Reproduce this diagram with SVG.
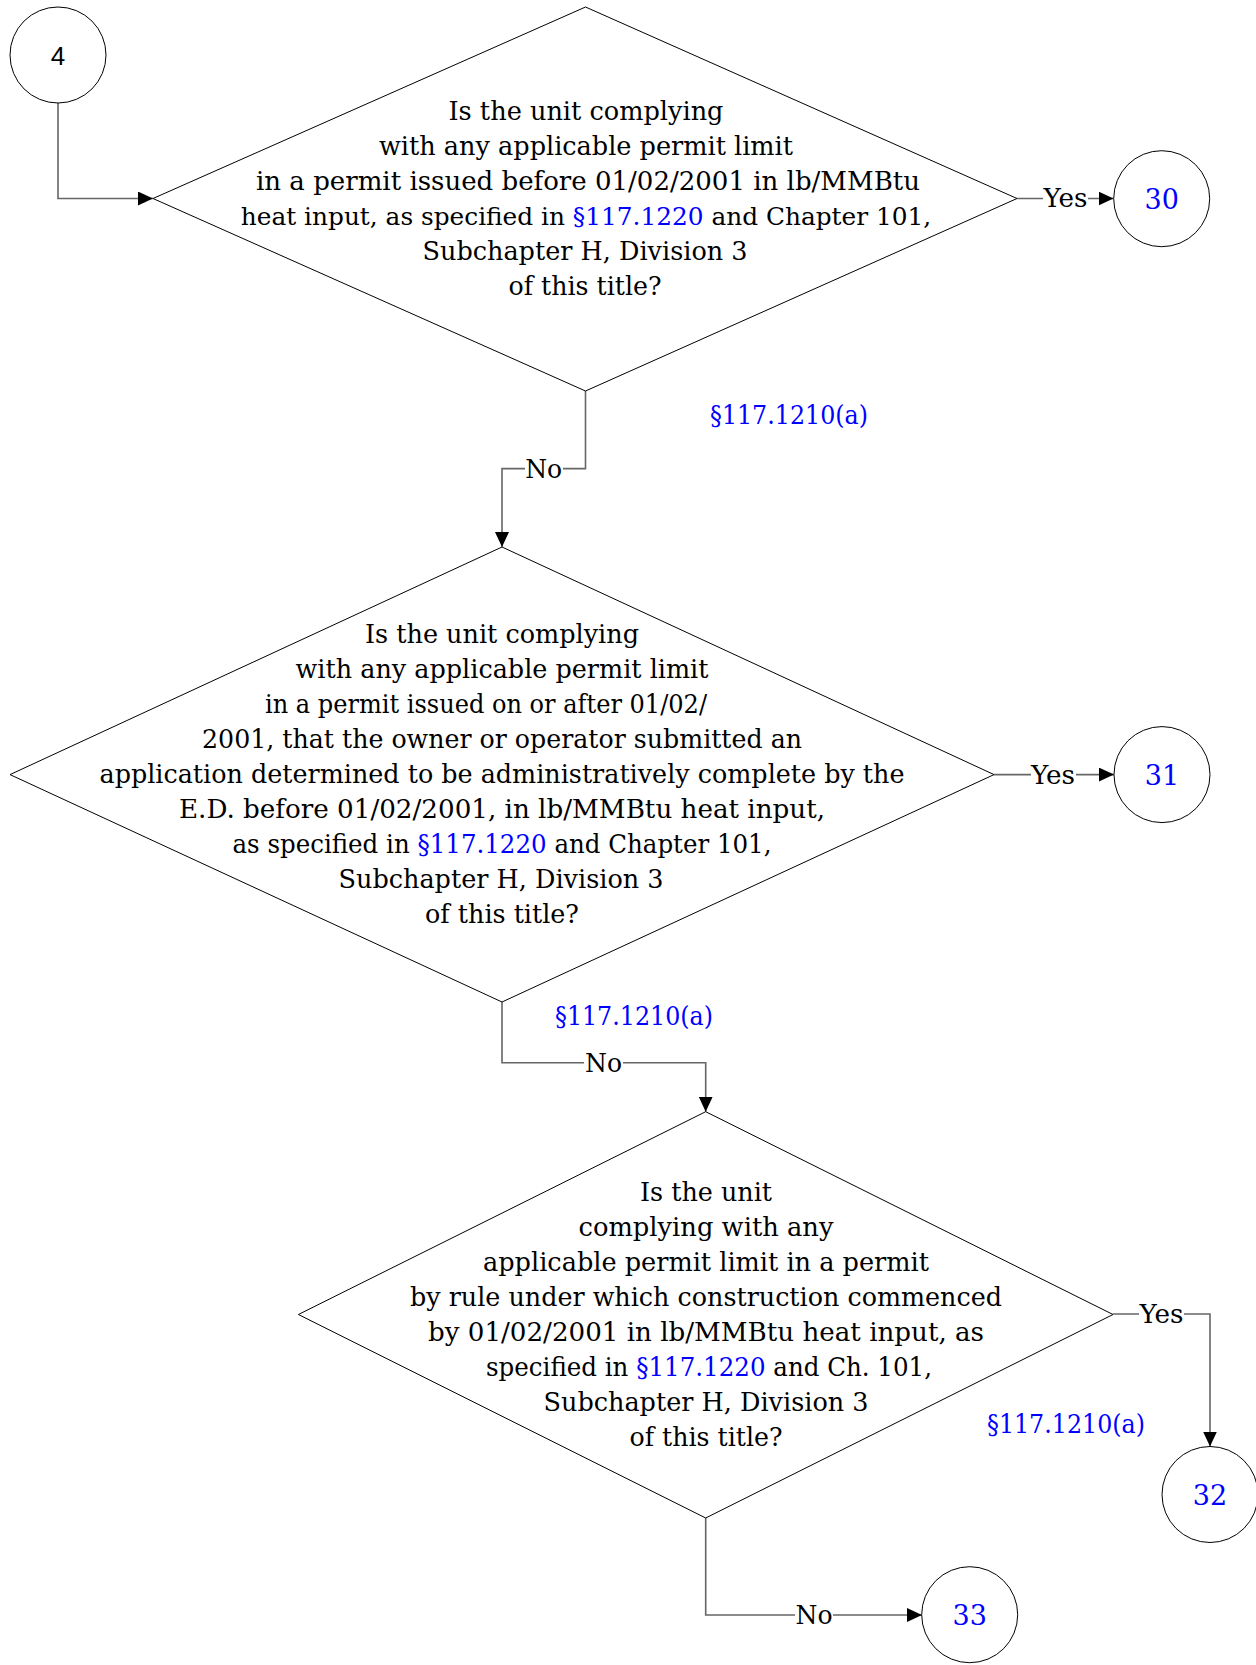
<svg xmlns="http://www.w3.org/2000/svg" width="1256" height="1665" viewBox="0 0 1256 1665">
<defs>
<marker id="arr" markerUnits="userSpaceOnUse" markerWidth="15" markerHeight="14" refX="15" refY="7" orient="auto">
<path d="M0,0 L15,7 L0,14 z" fill="#000"/>
</marker>
<style>
.shape{fill:#fff;stroke:#000;stroke-width:1}
.conn{fill:none;stroke:#666;stroke-width:1.6}
.t{font-family:"DejaVu Serif","Liberation Serif",serif;font-size:26px;fill:#000;text-anchor:middle}
.lnk{fill:#0000ff}
.ref{font-family:"DejaVu Serif","Liberation Serif",serif;font-size:26px;fill:#0000ff;text-anchor:middle}
.num{font-family:"DejaVu Serif","Liberation Serif",serif;font-size:27px;fill:#0000ff;text-anchor:middle}
.lbl{font-family:"DejaVu Serif","Liberation Serif",serif;font-size:26px;fill:#000;text-anchor:middle}
.bg{fill:#fff}
</style>
</defs>
<rect width="1256" height="1665" fill="#fff"/>

<g id="connectors">
<path class="conn" d="M58,103 V198.5 H153" marker-end="url(#arr)"/>
<path class="conn" d="M1017,198.5 H1113.5" marker-end="url(#arr)"/>
<path class="conn" d="M585.5,391 V468.6 H502 V547" marker-end="url(#arr)"/>
<path class="conn" d="M994,774.6 H1114" marker-end="url(#arr)"/>
<path class="conn" d="M502,1002 V1062.7 H705.7 V1111.7" marker-end="url(#arr)"/>
<path class="conn" d="M1113,1314 H1210 V1446.5" marker-end="url(#arr)"/>
<path class="conn" d="M705.7,1518 V1615 H922" marker-end="url(#arr)"/>
<g id="edge-labels">
<rect class="bg" x="1043" y="186" width="45" height="26"/>
<text class="lbl" x="1065.5" y="207" textLength="44" lengthAdjust="spacingAndGlyphs">Yes</text>
<rect class="bg" x="525" y="456" width="38" height="26"/>
<text class="lbl" x="543.7" y="478" textLength="37" lengthAdjust="spacingAndGlyphs">No</text>
<rect class="bg" x="1031" y="762" width="45" height="26"/>
<text class="lbl" x="1053" y="784" textLength="44" lengthAdjust="spacingAndGlyphs">Yes</text>
<rect class="bg" x="584" y="1050" width="39" height="26"/>
<text class="lbl" x="603.5" y="1072" textLength="37" lengthAdjust="spacingAndGlyphs">No</text>
<rect class="bg" x="1139" y="1301" width="45" height="26"/>
<text class="lbl" x="1161.5" y="1323" textLength="44" lengthAdjust="spacingAndGlyphs">Yes</text>
<rect class="bg" x="795" y="1602" width="38" height="26"/>
<text class="lbl" x="814" y="1624" textLength="37" lengthAdjust="spacingAndGlyphs">No</text>
<text class="ref" x="789" y="424" textLength="158" lengthAdjust="spacingAndGlyphs">§117.1210(a)</text>
<text class="ref" x="634" y="1025" textLength="158" lengthAdjust="spacingAndGlyphs">§117.1210(a)</text>
<text class="ref" x="1066" y="1433" textLength="158" lengthAdjust="spacingAndGlyphs">§117.1210(a)</text>
</g>
</g>

<g id="node-4">
<circle class="shape" cx="58" cy="55" r="48"/>
<text x="58" y="64.5" font-family="'Liberation Sans',Arial,sans-serif" font-size="26" text-anchor="middle" fill="#000">4</text>
</g>

<g id="node-d1">
<polygon class="shape" points="585.5,7 1017,198.5 585.5,391 153,198.5"/>
<text class="t" x="586" y="119.5" textLength="275" lengthAdjust="spacingAndGlyphs">Is the unit complying</text>
<text class="t" x="586" y="154.5" textLength="414" lengthAdjust="spacingAndGlyphs">with any applicable permit limit</text>
<text class="t" x="588" y="189.5" textLength="664" lengthAdjust="spacingAndGlyphs">in a permit issued before 01/02/2001 in lb/MMBtu</text>
<text class="t" x="586" y="224.5" style="font-size:24.8px">heat input, as specified in <tspan class="lnk">§117.1220</tspan> and Chapter 101,</text>
<text class="t" x="585" y="259.5" textLength="325" lengthAdjust="spacingAndGlyphs">Subchapter H, Division 3</text>
<text class="t" x="585" y="294.5" textLength="153" lengthAdjust="spacingAndGlyphs">of this title?</text>
</g>

<g id="node-30">
<circle class="shape" cx="1161.7" cy="198.7" r="48"/>
<text class="num" x="1161.7" y="208.5">30</text>
</g>

<g id="node-d2">
<polygon class="shape" points="502,547 994,774.6 502,1002 10,774.6"/>
<text class="t" x="502" y="643" textLength="274" lengthAdjust="spacingAndGlyphs">Is the unit complying</text>
<text class="t" x="502" y="678" textLength="413" lengthAdjust="spacingAndGlyphs">with any applicable permit limit</text>
<text class="t" x="486" y="713" textLength="442" lengthAdjust="spacingAndGlyphs">in a permit issued on or after 01/02/</text>
<text class="t" x="502" y="748" textLength="600" lengthAdjust="spacingAndGlyphs">2001, that the owner or operator submitted an</text>
<text class="t" x="502" y="783" textLength="805" lengthAdjust="spacingAndGlyphs">application determined to be administratively complete by the</text>
<text class="t" x="502" y="818" textLength="646" lengthAdjust="spacingAndGlyphs">E.D. before 01/02/2001, in lb/MMBtu heat input,</text>
<text class="t" x="502" y="853" textLength="539" lengthAdjust="spacingAndGlyphs">as specified in <tspan class="lnk">§117.1220</tspan> and Chapter 101,</text>
<text class="t" x="501" y="888" textLength="325" lengthAdjust="spacingAndGlyphs">Subchapter H, Division 3</text>
<text class="t" x="502" y="923" textLength="154" lengthAdjust="spacingAndGlyphs">of this title?</text>
</g>

<g id="node-31">
<circle class="shape" cx="1162" cy="774.6" r="48"/>
<text class="num" x="1162" y="784.5">31</text>
</g>

<g id="node-d3">
<polygon class="shape" points="705.7,1111.7 1113,1314.5 705.7,1518 298.4,1314.5"/>
<text class="t" x="706" y="1200.5" textLength="132" lengthAdjust="spacingAndGlyphs">Is the unit</text>
<text class="t" x="706" y="1235.5" textLength="255" lengthAdjust="spacingAndGlyphs">complying with any</text>
<text class="t" x="706" y="1270.5" textLength="446" lengthAdjust="spacingAndGlyphs">applicable permit limit in a permit</text>
<text class="t" x="706" y="1305.5" textLength="592" lengthAdjust="spacingAndGlyphs">by rule under which construction commenced</text>
<text class="t" x="706" y="1340.5" textLength="556" lengthAdjust="spacingAndGlyphs">by 01/02/2001 in lb/MMBtu heat input, as</text>
<text class="t" x="709" y="1375.5" textLength="446" lengthAdjust="spacingAndGlyphs">specified in <tspan class="lnk">§117.1220</tspan> and Ch. 101,</text>
<text class="t" x="706" y="1410.5" textLength="325" lengthAdjust="spacingAndGlyphs">Subchapter H, Division 3</text>
<text class="t" x="706" y="1445.5" textLength="153" lengthAdjust="spacingAndGlyphs">of this title?</text>
</g>

<g id="node-32">
<circle class="shape" cx="1210" cy="1494.5" r="48"/>
<text class="num" x="1210" y="1504.5">32</text>
</g>

<g id="node-33">
<circle class="shape" cx="969.7" cy="1614.7" r="48"/>
<text class="num" x="969.7" y="1624.5">33</text>
</g>
</svg>
